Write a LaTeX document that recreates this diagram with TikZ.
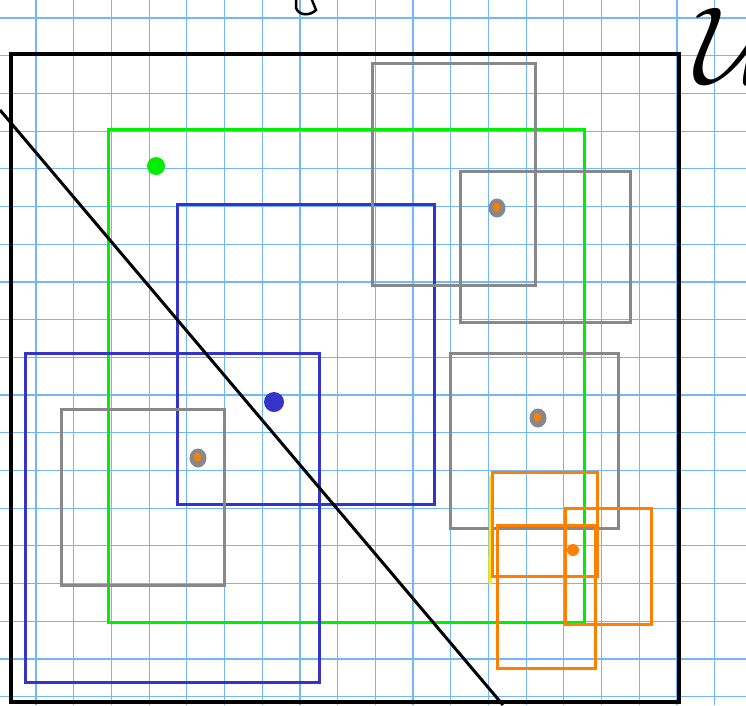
\documentclass[tikz,border=0pt]{standalone}
\definecolor{gridblue}{RGB}{115,182,250}
\definecolor{setgreen}{RGB}{0,238,0}
\definecolor{setblue}{RGB}{52,52,200}
\definecolor{setgray}{RGB}{136,136,136}
\definecolor{setorange}{RGB}{255,128,0}
\definecolor{setyellow}{RGB}{255,235,0}
\begin{document}
\begin{tikzpicture}[x=1pt,y=-1pt,
    gridline/.style={gridblue, line width=1.2pt},
    frameline/.style={black, line width=3.8pt},
    box/.style={line width=3pt}]
    \def\W{746}
    \def\H{705}
    \def\gs{37.7}
    \useasboundingbox[fill=white] (0,0) rectangle (\W,\H);

    % Squared paper
    \foreach \k in {-1,...,18}{
        \draw[gridline] ({36+\gs*\k},0) -- ({36+\gs*\k},\H);
    }
    \foreach \k in {0,...,18}{
        \draw[gridline] (0,{18+\gs*\k}) -- (\W,{18+\gs*\k});
    }

    % Universe
    \draw[frameline] (11,54) rectangle (679,702);
    \node[anchor=west, inner sep=0pt, scale=11] (setU) at (693,46) {$\mathcal{U}$};
    \draw[black, line width=2.5pt, line cap=round] (296,0) -- (296,8) .. controls (299,16) and (310,16) .. (316,10) -- (312,0);

    % Green set with its point
    \draw[box, setgreen] (108,129) rectangle (584,622);
    \fill[setgreen] (156,166) circle (9);

    % Blue sets with their point
    \draw[box, setblue] (177,204) rectangle (434,504);
    \draw[box, setblue] (25,353) rectangle (319,682);
    \fill[setblue] (274,402) circle (10);

    % Gray sets
    \foreach \xa/\ya/\xb/\yb in {372/63/535/285, 460/171/630/322, 450/353/618/528, 61/409/224/585}{
        \draw[box, setgray] (\xa,\ya) rectangle (\xb,\yb);
    }
    % Gray points (orange core)
    \foreach \px/\py in {497/208, 538/418, 198/458}{
        \fill[setgray] (\px,\py) ellipse (8.5 and 9.5);
        \fill[setorange] (\px-0.5,\py-1) ellipse (3.5 and 4.5);
    }

    % Yellow stroke under the orange sets
    \draw[setyellow, line width=3.5pt, line cap=round] (491,476) -- (490,583);

    % Orange sets with their point
    \foreach \xa/\ya/\xb/\yb in {492/472/597/576, 497/525/595/668, 565/508/651/624}{
        \draw[box, setorange] (\xa,\ya) rectangle (\xb,\yb);
    }
    \fill[setorange] (573,550) circle (6);

    % Separating line
    \draw[black, line width=3pt] (0,110) -- (503,705);
\end{tikzpicture}
\end{document}
